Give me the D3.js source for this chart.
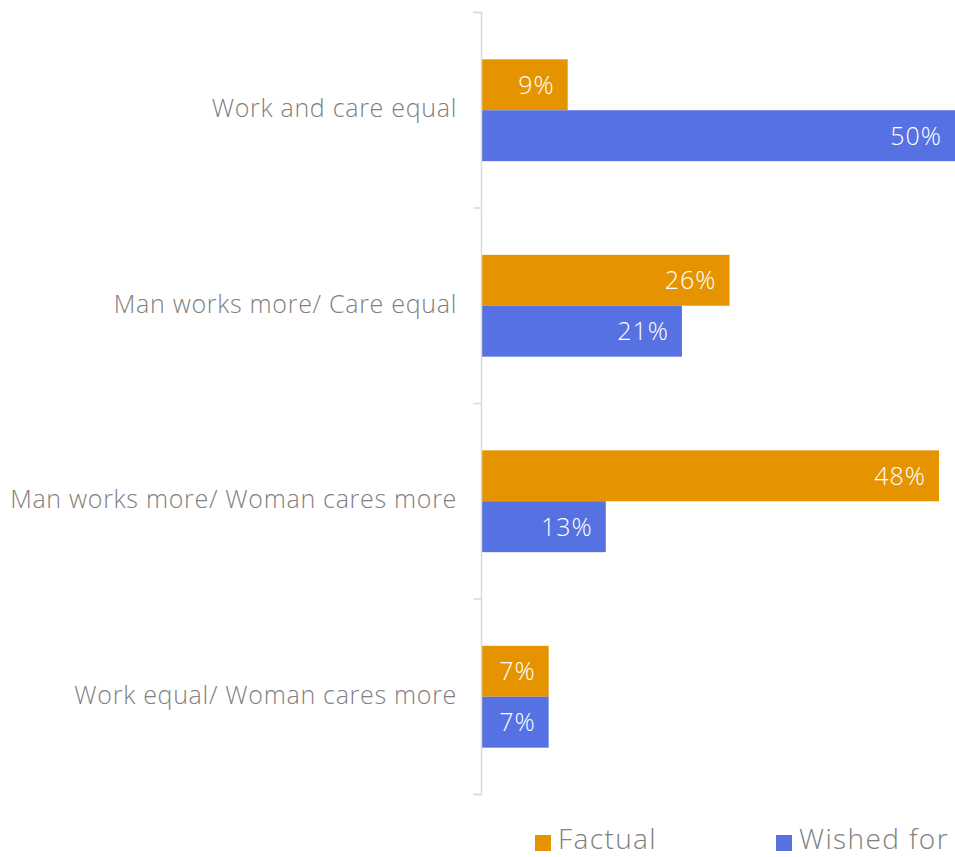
<!DOCTYPE html>
<html><head><meta charset="utf-8">
<script src="https://cdn.jsdelivr.net/npm/d3@7"></script>
<style>
html,body{margin:0;padding:0;background:#fff;}
svg{display:block;font-family:"Open Sans",Lato,sans-serif;font-weight:300;}
</style></head>
<body><svg id="c" width="955" height="857"></svg>
<script>
const categories = ["Work and care equal","Man works more/ Care equal","Man works more/ Woman cares more","Work equal/ Woman cares more"];
const seriesNames = ["Factual","Wished for"];
const factual = [9,26,48,7];
const wishedFor = [50,21,13,7];
const colors = ["#E59400","#5672E2"];

(function(){
const svg = d3.select("#c");
const x0 = 482, yTop = 12.5, yBot = 794.5;
const x = d3.scaleLinear().domain([0,48]).range([x0, 939]);
const y = d3.scaleBand().domain(categories).range([yTop,yBot]).paddingInner(0).paddingOuter(0);
const sub = d3.scaleBand().domain(seriesNames).range([0,y.bandwidth()]).paddingInner(0).paddingOuter(0.92);

const data = categories.map((c,i)=>({cat:c, vals:[factual[i], wishedFor[i]]}));

const g = svg.append("g");
data.forEach(d=>{
  d.vals.forEach((v,j)=>{
    const yy = y(d.cat)+sub(seriesNames[j]);
    g.append("rect").attr("x",x(0)).attr("y",yy).attr("width",x(v)-x(0)).attr("height",sub.bandwidth()).attr("fill",colors[j]);
    g.append("text").attr("x",Math.min(x(v),955)-13).attr("y",yy+sub.bandwidth()/2).attr("dy","0.36em")
      .attr("text-anchor","end").attr("fill","#fff").attr("font-size",25).attr("letter-spacing",1).text(v+"%");
  });
});

// axis
const ax = svg.append("g").attr("transform",`translate(${x0-0.5},0)`)
  .call(d3.axisLeft(y).tickSize(0).tickFormat(""));
ax.select(".domain").attr("stroke","#d9d9d9").attr("stroke-width",1.5).attr("d",`M-8,${yTop}H0V${yBot}H-8`);
const bounds = [yTop, ...categories.slice(1).map(c=>y(c)), yBot];
ax.selectAll(".bt").data(bounds).enter().append("line").attr("class","bt")
  .attr("x1",-8).attr("x2",0).attr("y1",d=>d).attr("y2",d=>d).attr("stroke","#d9d9d9").attr("stroke-width",1.5);

// category labels
svg.append("g").selectAll("text").data(categories).enter().append("text")
  .attr("x",457).attr("y",d=>y(d)+y.bandwidth()/2-2).attr("dy","0.35em")
  .attr("text-anchor","end").attr("fill","#808080").attr("font-size",25).attr("letter-spacing",0.7).text(d=>d);

// legend
const lg = svg.append("g");
const lx = [535, 776];
seriesNames.forEach((s,i)=>{
  lg.append("rect").attr("x",lx[i]).attr("y",835).attr("width",16).attr("height",16).attr("fill",colors[i]);
  lg.append("text").attr("x",lx[i]+23).attr("y",849).attr("fill","#808080").attr("font-size",28).attr("letter-spacing",1.4).text(s);
});
})();
</script></body></html>
